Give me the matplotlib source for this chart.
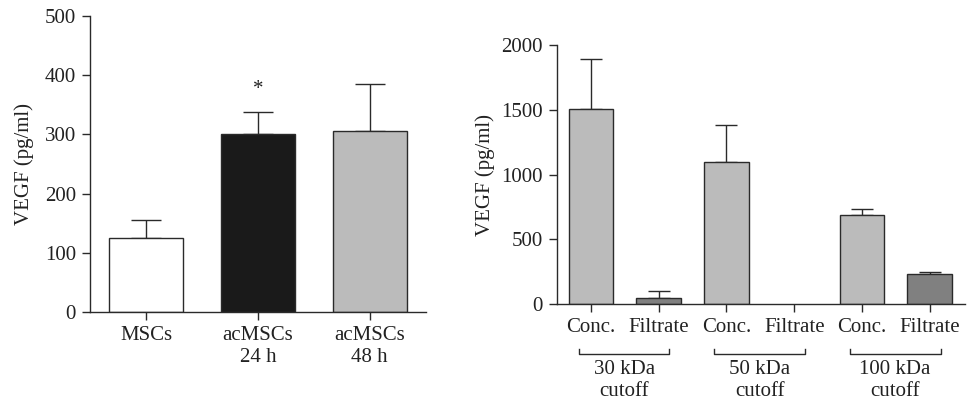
import matplotlib.pyplot as plt
import matplotlib.transforms as mtransforms

plt.rcParams['font.family'] = ['Liberation Serif', 'DejaVu Serif']
plt.rcParams['font.size'] = 15

# Data - left panel
left_labels = ['MSCs', 'acMSCs\n24 h', 'acMSCs\n48 h']
left_values = [125, 300, 306]
left_err = [30, 38, 79]
left_colors = ['white', '#1a1a1a', '#bbbbbb']

# Data - right panel
right_labels = ['Conc.', 'Filtrate', 'Conc.', 'Filtrate', 'Conc.', 'Filtrate']
right_values = [1505, 45, 1100, 0, 688, 232]
right_err = [385, 52, 285, 0, 42, 16]
right_colors = ['#bbbbbb', '#808080', '#bbbbbb', '#808080', '#bbbbbb', '#808080']
groups = ['30 kDa\ncutoff', '50 kDa\ncutoff', '100 kDa\ncutoff']

edge = '#2a2a2a'
txt = '#222222'

fig = plt.figure(figsize=(9.76, 4.13), dpi=100)
ax1 = fig.add_axes([0.0922, 0.2446, 0.344, 0.7167])
ax2 = fig.add_axes([0.5707, 0.2639, 0.418, 0.627])


def style(ax):
    for s in ['top', 'right']:
        ax.spines[s].set_visible(False)
    for s in ['left', 'bottom']:
        ax.spines[s].set_color(edge)
        ax.spines[s].set_linewidth(1.0)
    ax.tick_params(direction='out', length=6, width=1.0, color=edge, labelcolor=txt, pad=4)


# Left panel
x1 = list(range(len(left_values)))
ax1.errorbar(x1, left_values, yerr=[[0] * len(left_err), left_err], fmt='none',
             ecolor=edge, elinewidth=1.0, capsize=11, capthick=1.0, zorder=1)
ax1.bar(x1, left_values, width=0.66, color=left_colors, edgecolor=edge, linewidth=1.0, zorder=2)
ax1.text(1, left_values[1] + left_err[1] + 38, '*', ha='center', va='center', fontsize=15, color=txt)
ax1.set_xlim(-0.5, 2.5)
ax1.set_ylim(0, 500)
ax1.set_yticks([0, 100, 200, 300, 400, 500])
ax1.set_xticks(x1)
ax1.set_xticklabels(left_labels, linespacing=1.25)
ax1.set_ylabel('VEGF (pg/ml)', labelpad=8, color=txt)
style(ax1)

# Right panel (skip error bar and edge where there is no value)
x2 = list(range(len(right_values)))
ex = [x for x, v in zip(x2, right_values) if v > 0]
ev = [v for v in right_values if v > 0]
ee = [e for e, v in zip(right_err, right_values) if v > 0]
ax2.errorbar(ex, ev, yerr=[[0] * len(ee), ee], fmt='none',
             ecolor=edge, elinewidth=1.0, capsize=8, capthick=1.0, zorder=1)
edges = [edge if v > 0 else 'none' for v in right_values]
ax2.bar(x2, right_values, width=0.66, color=right_colors, edgecolor=edges, linewidth=1.0, zorder=2)
ax2.set_xlim(-0.5, 5.52)
ax2.set_ylim(0, 2000)
ax2.set_yticks([0, 500, 1000, 1500, 2000])
ax2.set_xticks(x2)
ax2.set_xticklabels(right_labels)
ax2.set_ylabel('VEGF (pg/ml)', labelpad=5, color=txt)
style(ax2)

# Group brackets under the x labels
trans = mtransforms.blended_transform_factory(ax2.transData, ax2.transAxes)
for i, g in enumerate(groups):
    xa = 2 * i - 0.18
    xb = 2 * i + 1.16
    ax2.plot([xa, xa, xb, xb], [-0.174, -0.193, -0.193, -0.174], transform=trans,
             color=edge, lw=1.0, clip_on=False)
    ax2.text((xa + xb) / 2, -0.215, g, transform=trans, ha='center', va='top',
             linespacing=1.25, color=txt)

fig.savefig('out.png', dpi=100)
